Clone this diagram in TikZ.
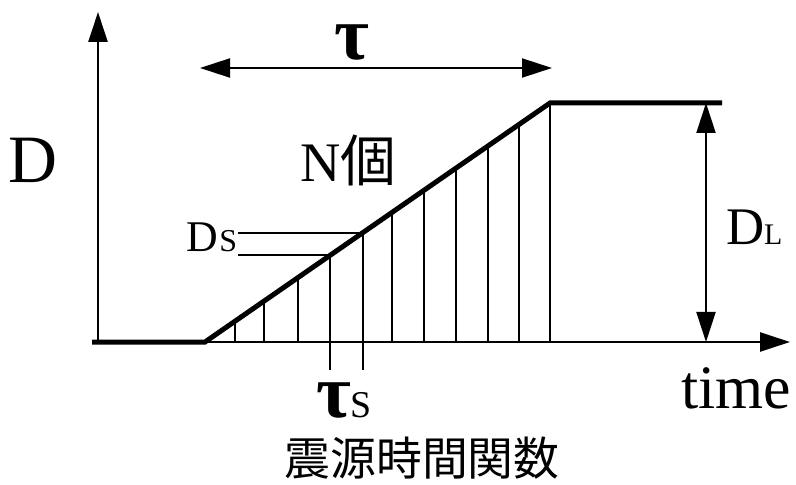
\documentclass[tikz,border=0pt]{standalone}
\usepackage{fontspec}
\setmainfont{Liberation Serif}
\newfontfamily\cjk{Noto Sans CJK JP}
\usetikzlibrary{arrows.meta}
\tikzset{
  axisline/.style={line width=2.4bp},
  fnline/.style={line width=5bp, line join=miter},
  thinline/.style={line width=2bp},
  tri/.tip={Triangle[length=30bp,width=19bp]},
  lbl/.style={inner sep=0pt, outer sep=0pt},
}
\newcommand{\fs}[1]{\fontsize{#1}{#1}\selectfont}
\begin{document}
\begin{tikzpicture}[x=1bp,y=-1bp]
\useasboundingbox (0,0) rectangle (796,485);
% key points
\coordinate (origin) at (98,342);
\coordinate (ytop) at (98,12);
\coordinate (xleft) at (92,342);
\coordinate (xright) at (790,342);
\coordinate (rampstart) at (205,342);
\coordinate (rampend) at (550,103);
\coordinate (flatend) at (722,103);
\coordinate (taul) at (200,68);
\coordinate (taur) at (552,68);
\coordinate (dltop) at (706,103);
\coordinate (dlbot) at (706,342);
% axes
\draw[axisline,-tri] (origin) -- (ytop);
\draw[axisline,-tri] (xleft) -- (xright);
% vertical sample lines
\foreach \x in {235,264,298,392,424,456,488,519,550}{
  \draw[thinline] (\x,342) -- (\x,{342-0.6928*(\x-205)});
}
\coordinate (sa) at (330,{342-0.6928*(330-205)});
\coordinate (sb) at (363,{342-0.6928*(363-205)});
\draw[thinline] (sa) -- (330,370);
\draw[thinline] (sb) -- (363,370);
% Ds lines
\coordinate (dsa) at (238,{342-0.6928*(363-205)});
\coordinate (dsb) at (238,{342-0.6928*(330-205)});
\draw[thinline] (dsa) -- (sb);
\draw[thinline] (dsb) -- (sa);
% source time function
\draw[fnline] (xleft) -- (rampstart) -- (rampend) -- (flatend);
% tau arrow
\draw[thinline,tri-tri] (taul) -- (taur);
% DL arrow
\draw[thinline,tri-tri] (dltop) -- (dlbot);
% labels
\node[lbl] (lD) at (33,160.5) {\fs{68}D};
\node[lbl,anchor=base west] (lN) at (300,182) {\fs{56}N{\cjk 個}};
\node[lbl,anchor=base east] (lDs) at (237,252) {\fs{44}D\hspace{1bp}{\fs{32}S}};
\node[lbl,anchor=base west] (lDL) at (726,245) {\fs{53}D{\fs{30}L}};
\node[lbl,anchor=base west] (ltime) at (681,408) {\fs{62}time};
\node[lbl,anchor=base] (ltau) at (352,60) {\fs{76}\bfseries τ};
\node[lbl,anchor=base west] (ltaus) at (316,417) {\fs{76}\bfseries τ\mdseries\fs{38}S};
\node[lbl] (ltitle) at (422,458) {\fs{46}\cjk 震源時間関数};
\end{tikzpicture}
\end{document}
